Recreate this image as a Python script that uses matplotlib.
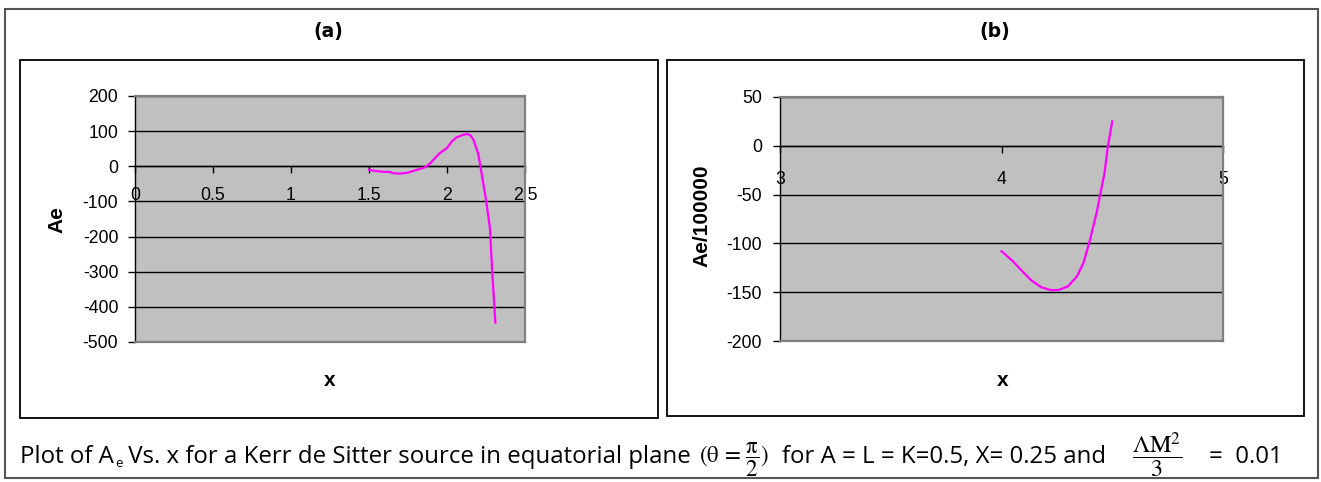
import matplotlib
matplotlib.use("Agg")
import matplotlib.pyplot as plt
from matplotlib.patches import Rectangle

# ---------------- data ----------------
# panel (a): Ae vs x
xa = [1.50, 1.55, 1.60, 1.63, 1.66, 1.70, 1.75, 1.80, 1.85, 1.87, 1.90, 1.95,
      2.00, 2.03, 2.06, 2.10, 2.13, 2.15, 2.17, 2.20, 2.215, 2.25, 2.275, 2.29, 2.31]
ya = [-10, -14, -16, -16, -20, -21, -18, -11, -4, 0, 12, 36,
      52, 70, 82, 89, 92, 88, 75, 36, -2, -95, -175, -300, -445]
# panel (b): Ae/100000 vs x
xb = [4.00, 4.05, 4.10, 4.135, 4.18, 4.225, 4.26, 4.30, 4.34, 4.37, 4.40,
      4.43, 4.45, 4.465, 4.48, 4.50]
yb = [-108, -118, -130, -138, -145, -148, -147.6, -144, -134, -120, -96,
      -68, -45, -28, -1, 25]

yticks_a = [200, 100, 0, -100, -200, -300, -400, -500]
xticks_a = [0, 0.5, 1, 1.5, 2, 2.5]
xticklabels_a = ["0", "0.5", "1", "1.5", "2", "2.5"]
yticks_b = [50, 0, -50, -100, -150, -200]
xticks_b = [3, 4, 5]
xticklabels_b = ["3", "4", "5"]

# ---------------- figure ----------------
W, H = 1321, 482
fig = plt.figure(figsize=(W / 100, H / 100), dpi=100)
renderer = fig.canvas.get_renderer()


def fx(p):
    return p / W


def fy(p):
    return 1 - p / H


GRAY_EDGE = "#808080"
PLOT_BG = "#C0C0C0"
TICK_FAMILY = "Liberation Sans"
TICK_SIZE = 12.7
LABEL_FONT = dict(family="Liberation Sans", size=15, weight="bold")


def box(l, t, r, b, color, lw):
    fig.patches.append(Rectangle((fx(l), fy(b)), fx(r) - fx(l), fy(t) - fy(b),
                                 transform=fig.transFigure, fill=False,
                                 edgecolor=color, linewidth=lw))


def make_axes(l, t, r, b, xlim, ylim, xt, xtl, yt, xpad, ypad):
    ax = fig.add_axes([fx(l), fy(b), fx(r) - fx(l), fy(t) - fy(b)])
    ax.set_facecolor(PLOT_BG)
    ax.spines["bottom"].set_position(("data", 0))
    ax.spines["bottom"].set_color("black")
    ax.spines["bottom"].set_linewidth(1.0)
    ax.spines["bottom"].set_zorder(0.35)
    ax.spines["left"].set_color("black")
    ax.spines["left"].set_linewidth(1.0)
    for s in ("top", "right"):
        ax.spines[s].set_color(GRAY_EDGE)
        ax.spines[s].set_linewidth(1.6)
    ax.set_xlim(*xlim)
    ax.set_ylim(*ylim)
    ax.set_yticks(yt)
    ax.set_yticklabels([str(v) for v in yt])
    ax.set_xticks(xt)
    ax.set_xticklabels(xtl)
    ax.set_axisbelow(True)
    # horizontal gridlines beneath the tick labels
    ax.hlines(yt, 0, 1, transform=ax.get_yaxis_transform(), colors="black",
              linewidth=1.0, zorder=0.3)
    ax.plot([0, 1], [0, 0], transform=ax.transAxes, color=GRAY_EDGE,
            linewidth=1.6, clip_on=False, zorder=3)
    ax.tick_params(axis="y", direction="out", length=5, width=1,
                   color="black", pad=ypad, labelsize=TICK_SIZE,
                   labelfontfamily=TICK_FAMILY)
    ax.tick_params(axis="x", direction="out", length=5, width=1,
                   color="black", pad=xpad, labelsize=TICK_SIZE,
                   labelfontfamily=TICK_FAMILY)
    return ax


# outer frame and chart frames
box(5, 9, 1318, 478, "#555555", 1.5)
box(20, 60, 658, 418, "black", 1.3)
box(667, 60, 1304, 416, "black", 1.3)

# panel (a)
axa = make_axes(135, 96, 525, 342, (0, 2.5), (-500, 200),
                xticks_a, xticklabels_a, yticks_a, xpad=10, ypad=7)
axa.plot(xa, ya, color="#FF00FF", linewidth=1.6, zorder=4)

# panel (b)
axb = make_axes(780, 97, 1223, 341, (3, 5), (-200, 50),
                xticks_b, xticklabels_b, yticks_b, xpad=13, ypad=8)
axb.plot(xb, yb, color="#FF00FF", linewidth=1.6, zorder=4)

# axis labels
fig.text(fx(57), fy(220), "Ae", rotation=90, ha="center", va="center", **LABEL_FONT)
fig.text(fx(330), fy(381), "x", ha="center", va="center", **LABEL_FONT)
fig.text(fx(702), fy(216), "Ae/100000", rotation=90, ha="center", va="center", **LABEL_FONT)
fig.text(fx(1003), fy(381), "x", ha="center", va="center", **LABEL_FONT)

# panel titles
fig.text(fx(328), fy(32), "(a)", ha="center", va="center",
         family="DejaVu Sans", weight="bold", size=13.5)
fig.text(fx(995), fy(32), "(b)", ha="center", va="center",
         family="DejaVu Sans", weight="bold", size=13.5)

# ---------------- caption ----------------
CAP_FAMILY = "Open Sans"
base = fy(463)
SUB = 0.55


def text_w(s, size):
    t = fig.text(0, 0, s, family=CAP_FAMILY, size=size)
    w = t.get_window_extent(renderer).width
    t.remove()
    return w


p1a = "Plot of A"
p1b = "e"
p1c = " Vs. x for a Kerr de Sitter source in equatorial plane"
p2 = "for A = L = K=0.5, X= 0.25 and"
p3 = "=  0.01"

tot14 = text_w(p1a, 14) + text_w(p1b, 14 * SUB) + 1 + text_w(p1c, 14)
s1 = 14 * (693 - 20) / tot14

t1 = fig.text(fx(20), base, p1a, family=CAP_FAMILY, size=s1, va="baseline", ha="left")
xe = t1.get_window_extent(renderer).x1 + 1
te = fig.text(xe / W, fy(467), p1b, family=CAP_FAMILY, size=s1 * SUB,
              va="baseline", ha="left")
xv = te.get_window_extent(renderer).x1
t_end1 = fig.text(xv / W, base, p1c, family=CAP_FAMILY, size=s1, va="baseline", ha="left")
x_end1 = t_end1.get_window_extent(renderer).x1
tm = fig.text((x_end1 + 8) / W, base, r"$(\mathrm{θ}\,=\,\dfrac{\mathrm{π}}{2})$",
              size=16.5, va="baseline", ha="left", math_fontfamily="stix")
xm = tm.get_window_extent(renderer).x1
t2 = fig.text(max(782, xm + 12) / W, base, p2, family=CAP_FAMILY, size=s1,
              va="baseline", ha="left")
t3 = fig.text(fx(1283), base, p3, family=CAP_FAMILY, size=s1, va="baseline", ha="right")
x2 = t2.get_window_extent(renderer).x1
x3 = t3.get_window_extent(renderer).x0
fig.text((x2 + x3) / 2 / W, base, r"$\dfrac{\Lambda\mathrm{M}^{2}}{3}$", size=17.5,
         va="baseline", ha="center", math_fontfamily="stix")

fig.savefig("out.png", dpi=100, facecolor="white")
